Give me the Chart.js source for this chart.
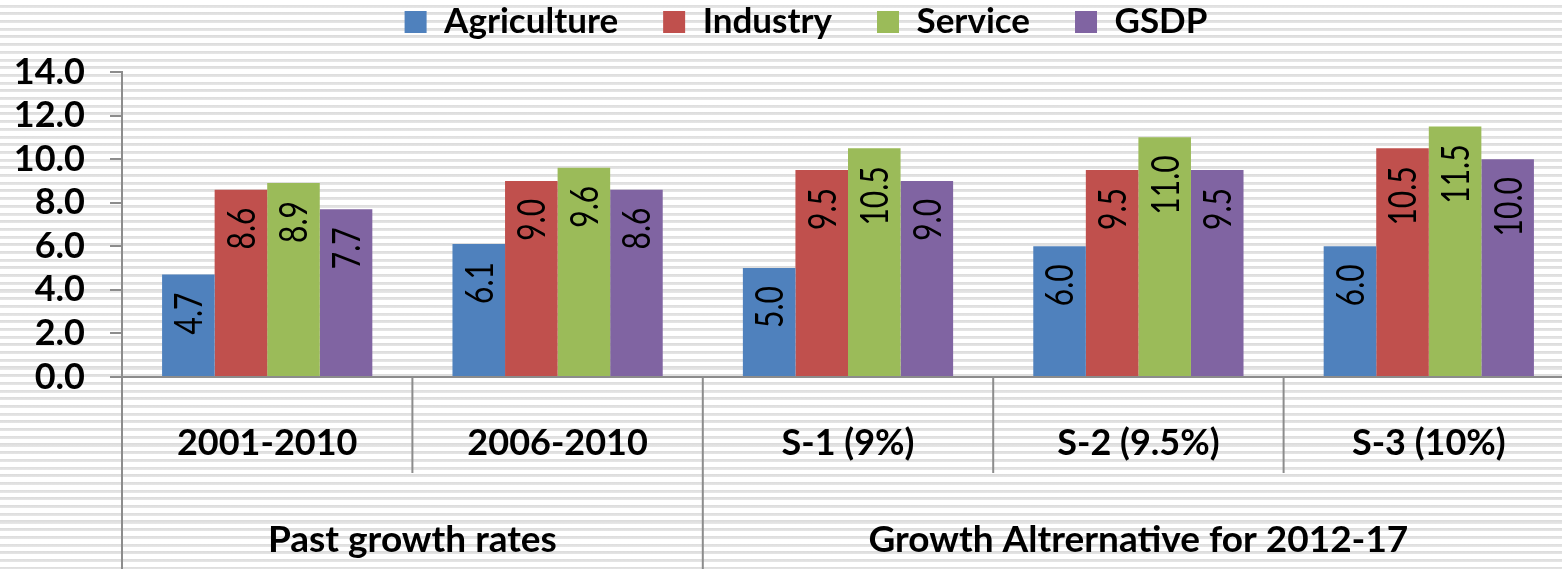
<!DOCTYPE html>
<html>
<head>
<meta charset="utf-8">
<script src="https://cdn.jsdelivr.net/npm/chart.js@4/dist/chart.umd.min.js"></script>
<style>
  html, body { margin: 0; padding: 0; overflow: hidden; width: 1562px; height: 569px; }
  body {
    background: repeating-linear-gradient(to bottom, #ffffff 0px, #ffffff 4.6px, #dcdcdc 4.6px, #e6e6e6 7.7px);
  }
  #wrap { position: absolute; left: 0; top: 0; width: 1575px; height: 569px; }
</style>
</head>
<body>
<div id="wrap"><canvas id="c" width="1575" height="569"></canvas></div>
<script>
const categories = ['2001-2010', '2006-2010', 'S-1 (9%)', 'S-2 (9.5%)', 'S-3 (10%)'];
const groupLabels = ['Past growth rates', 'Growth Altrernative for 2012-17'];
const groupSizes = [2, 3];
const seriesNames = ['Agriculture', 'Industry', 'Service', 'GSDP'];
const agriculture = [4.7, 6.1, 5.0, 6.0, 6.0];
const industry = [8.6, 9.0, 9.5, 9.5, 10.5];
const service = [8.9, 9.6, 10.5, 11.0, 11.5];
const gsdp = [7.7, 8.6, 9.0, 9.5, 10.0];
const yTicks = [0, 2, 4, 6, 8, 10, 12, 14];

const colors = ['#4F81BD', '#C0504D', '#9BBB59', '#8064A2'];
const FONT = 'Lato, "Open Sans", sans-serif';
const AXIS = '#8c8c8c';
const LEGEND_PAD = 45;
const LEGEND_FONT = 35;

const legendPlace = {
  id: 'legendPlace',
  afterLayout(chart) {
    const lg = chart.legend;
    if (!lg) return;
    const dy = (22 - LEGEND_FONT / 2 - LEGEND_PAD) - lg.top;
    const dx = 19;
    lg.top += dy; lg.bottom += dy;
    lg.left += dx; lg.right += dx;
  }
};

const valueLabels = {
  id: 'valueLabels',
  afterDatasetsDraw(chart) {
    const ctx = chart.ctx;
    ctx.save();
    ctx.fillStyle = '#000';
    ctx.font = '400 30px ' + FONT;
    chart.data.datasets.forEach((ds, di) => {
      const meta = chart.getDatasetMeta(di);
      meta.data.forEach((bar, i) => {
        const v = ds.data[i];
        ctx.save();
        ctx.translate(bar.x, bar.y + 18);
        ctx.rotate(-Math.PI / 2);
        ctx.scale(1, 1.3);
        ctx.textAlign = 'right';
        ctx.textBaseline = 'middle';
        ctx.fillText(v.toFixed(1), 0, 1);
        ctx.restore();
      });
    });
    ctx.restore();
  }
};

const groupAxis = {
  id: 'groupAxis',
  afterDraw(chart) {
    const ctx = chart.ctx;
    const xs = chart.scales.x;
    const area = chart.chartArea;
    const half = (xs.getPixelForValue(1) - xs.getPixelForValue(0)) / 2;
    const bounds = categories.map((c, i) => xs.getPixelForValue(i) - half);
    bounds.push(xs.getPixelForValue(categories.length - 1) + half);
    const outer = [0];
    let acc = 0;
    groupSizes.forEach(s => { acc += s; outer.push(acc); });
    ctx.save();
    ctx.strokeStyle = AXIS;
    ctx.lineWidth = 2;
    ctx.beginPath();
    ctx.moveTo(area.left - 12, area.bottom);
    ctx.lineTo(area.left, area.bottom);
    ctx.stroke();
    bounds.forEach((bx, i) => {
      const isOuter = outer.includes(i);
      ctx.beginPath();
      ctx.moveTo(bx, area.bottom);
      ctx.lineTo(bx, isOuter ? chart.height : area.bottom + 96);
      ctx.stroke();
    });
    ctx.fillStyle = '#000';
    ctx.font = 'bold 37px ' + FONT;
    ctx.textAlign = 'center';
    ctx.textBaseline = 'middle';
    groupLabels.forEach((g, gi) => {
      const x0 = bounds[outer[gi]];
      const x1 = bounds[outer[gi + 1]];
      ctx.fillText(g, (x0 + x1) / 2, 540);
    });
    ctx.restore();
  }
};

new Chart(document.getElementById('c'), {
  type: 'bar',
  data: {
    labels: categories,
    datasets: [agriculture, industry, service, gsdp].map((d, i) => ({
      label: seriesNames[i],
      data: d,
      backgroundColor: colors[i],
      borderWidth: 0,
      categoryPercentage: 0.724,
      barPercentage: 1.0
    }))
  },
  options: {
    responsive: false,
    animation: false,
    devicePixelRatio: 1,
    layout: { padding: { top: -18, left: 0, right: 1, bottom: 0 } },
    plugins: {
      legend: {
        position: 'top',
        labels: {
          color: '#000',
          font: { family: FONT, size: LEGEND_FONT, weight: 'bold' },
          boxWidth: 22,
          boxHeight: 22,
          padding: LEGEND_PAD,
          useBorderRadius: false
        }
      },
      tooltip: { enabled: false }
    },
    scales: {
      y: {
        min: 0,
        max: 14,
        afterBuildTicks(scale) { scale.ticks = yTicks.map(v => ({ value: v })); },
        afterFit(scale) { scale.width = 122; },
        ticks: {
          color: '#000',
          font: { family: FONT, size: 36, weight: 'bold' },
          padding: 25,
          autoSkip: false,
          callback: v => Number(v).toFixed(1)
        },
        grid: { drawOnChartArea: false, drawTicks: true, tickLength: 12, color: AXIS, lineWidth: 2 },
        border: { display: true, color: AXIS, width: 2 }
      },
      x: {
        afterFit(scale) { scale.height = 192; },
        ticks: {
          color: '#000',
          font: { family: FONT, size: 36, weight: 'bold' },
          padding: 45,
          maxRotation: 0,
          autoSkip: false
        },
        grid: { display: false, drawTicks: false },
        border: { display: true, color: AXIS, width: 2 }
      }
    }
  },
  plugins: [legendPlace, valueLabels, groupAxis]
});
</script>
</body>
</html>
